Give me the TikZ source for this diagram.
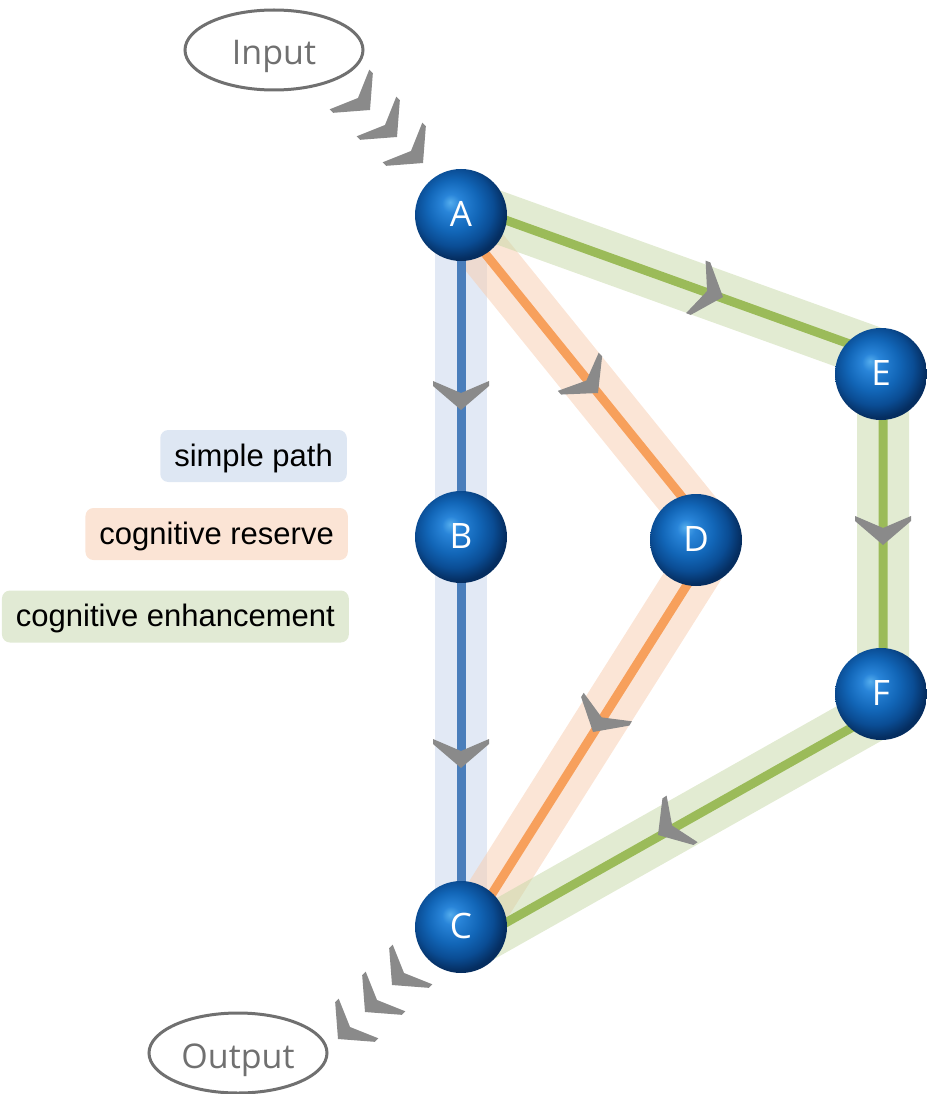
\documentclass[tikz,border=0pt]{standalone}
\usepackage{fontspec}
\usetikzlibrary{shapes.geometric,calc,backgrounds}
\newfontfamily\ofont{Open Sans}
\newfontfamily\lfont{Liberation Sans}
\definecolor{bandblue}{RGB}{197,212,235}
\definecolor{bandorange}{RGB}{248,203,173}
\definecolor{bandgreen}{RGB}{197,216,165}
\definecolor{lineblue}{RGB}{74,126,187}
\definecolor{lineorange}{RGB}{247,160,92}
\definecolor{linegreen}{RGB}{155,187,89}
\definecolor{chevgray}{RGB}{138,138,138}
\definecolor{ellgray}{RGB}{112,112,112}
\definecolor{legblue}{RGB}{222,231,243}
\definecolor{legorange}{RGB}{251,228,213}
\definecolor{leggreen}{RGB}{225,234,212}
\pgfdeclareradialshading{sphereshade}{\pgfpoint{-6bp}{7bp}}{rgb(0bp)=(0.33,0.68,0.93); rgb(5bp)=(0.16,0.52,0.85); rgb(14bp)=(0.07,0.40,0.72); rgb(21bp)=(0.04,0.30,0.58); rgb(27bp)=(0.02,0.18,0.38); rgb(50bp)=(0.01,0.10,0.25)}
\begin{document}
\begin{tikzpicture}[x=1pt,y=-1pt,
  sphere/.style={circle, minimum size=92pt, inner sep=0pt, shading=sphereshade, text=white, font=\ofont\fontsize{35}{35}\selectfont, text height=23pt, text depth=0pt},
  band/.style={line width=52pt, opacity=0.5, line join=miter},
  core/.style={line width=9pt},
  legend/.style={rounded corners=8pt, inner xsep=14pt, minimum height=52pt, font=\lfont\fontsize{31}{31}\selectfont, text height=22pt, text depth=2pt, anchor=east},
  io/.style={ellipse, draw=ellgray, line width=3pt, minimum width=178pt, minimum height=80pt, inner sep=0pt, text=ellgray, font=\ofont\fontsize{34}{34}\selectfont, text height=30pt, text depth=0pt},
  chev/.pic={\fill[chevgray] (0,0) -- (-24,28) -- (-29,28) -- (-17,0) -- (-29,-28) -- (-24,-28) -- cycle;}
]
\useasboundingbox (0,0) rectangle (926,1094);
% legend
\node[legend, fill=legblue] (L1) at (347,456) {simple path};
\node[legend, fill=legorange] (L2) at (348,534) {cognitive reserve};
\node[legend, fill=leggreen] (L3) at (349,616.5) {cognitive enhancement};
% input / output
\node[io] (In) at (274,50) {Input};
\node[io] (Out) at (238,1053) {Output};
% spheres
\node[sphere] (A) at (461,215) {A};
\node[sphere] (B) at (461,537) {B};
\node[sphere] (C) at (461,927) {C};
\node[sphere] (D) at (696,540) {D};
\node[sphere] (E) at (881,374) {E};
\node[sphere] (F) at (881,694) {F};
% path anchor points
\coordinate (oA) at ($(A.center)+(-7,0)$);
\coordinate (oD) at ($(D.center)+(20,-1)$);
\coordinate (oC) at ($(C.center)+(10,0)$);
\coordinate (gA) at ($(A.center)+(0,-11)$);
\coordinate (gE) at ($(E.center)+(2,-18)$);
\coordinate (gF) at ($(F.center)+(2,16)$);
\coordinate (gC) at ($(C.center)+(0,21)$);
\begin{pgfonlayer}{background}
\draw[band, bandblue] (A.center) -- (B.center) -- (C.center);
\draw[band, bandorange, line join=round] (oA) -- (oD) -- (oC);
\draw[band, bandgreen] (gA) -- (gE) -- (gF) -- (gC);
\draw[core, lineblue] (A.center) -- (B.center) -- (C.center);
\draw[core, lineorange] (oA) -- (oD) -- (oC);
\draw[core, linegreen] (gA) -- (gE) -- (gF) -- (gC);
\end{pgfonlayer}
% direction marks on the paths
\pic[rotate=-90] at (461,410) {chev};
\pic[rotate=-90] at (461,768) {chev};
\pic[rotate=-47] at (598,393) {chev};
\pic[rotate=239.4] at (593,732) {chev};
\pic[rotate=-20.4] at (723,297) {chev};
\pic[rotate=-90] at (883,545) {chev};
\pic[rotate=213.7] at (658,835) {chev};
% input chevrons
\pic[rotate=-45] at (370,110) {chev};
\pic[rotate=-45] at (397,137) {chev};
\pic[rotate=-45] at (423,163) {chev};
% output chevrons
\pic[rotate=225] at (392,985) {chev};
\pic[rotate=225] at (365,1012) {chev};
\pic[rotate=225] at (338,1039) {chev};
\end{tikzpicture}
\end{document}
